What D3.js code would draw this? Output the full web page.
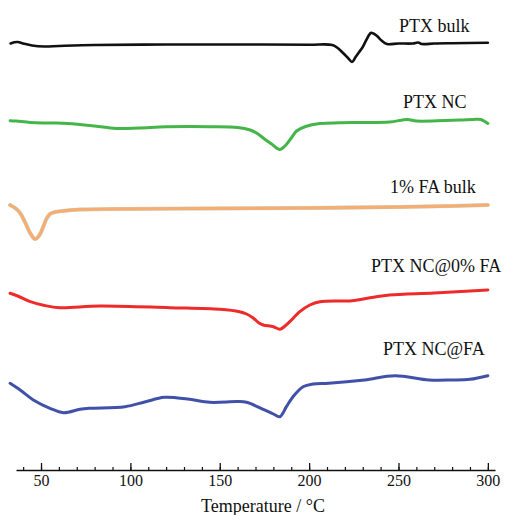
<!DOCTYPE html>
<html lang="en">
<head>
  <meta charset="UTF-8">
  <title>DSC curves</title>
  <style>
    html, body { margin: 0; background: #fff; }
    text { font-family: 'Liberation Serif', 'Times New Roman', serif; fill: #111; }
  </style>
  <script src="https://cdn.jsdelivr.net/npm/d3@7"></script>
</head>
<body>
  <script>
    const width = 505
    const height = 515

    // data (temperature in °C, heat flow in a.u. with offsets)
    const bulkT = [33, 35, 37, 40, 45, 52, 60, 80, 120, 160, 200, 213, 216, 219, 222, 224, 226, 228, 230, 232, 234.5, 236, 238, 240.5, 243.5, 250, 258, 261, 263, 270, 280, 300]
    const bulkV = [42.65, 42.77, 42.8, 42.65, 42.45, 42.35, 42.4, 42.5, 42.55, 42.55, 42.53, 42.5, 42.2, 41.7, 41.15, 40.8, 41.3, 41.8, 42.3, 43.0, 43.7, 43.65, 43.4, 42.95, 42.6, 42.65, 42.65, 42.75, 42.6, 42.65, 42.68, 42.73]

    const ncT = [32.7, 36, 44, 55, 65, 80, 92, 105, 120, 145, 160, 167, 171, 175, 179, 183.6, 187, 190, 193, 198, 206, 217, 228, 245, 255, 260, 276, 285, 292, 296, 300]
    const ncV = [34.93, 34.9, 34.75, 34.7, 34.65, 34.4, 34.15, 34.2, 34.32, 34.33, 34.25, 34.0, 33.65, 33.1, 32.6, 32.05, 32.5, 33.2, 33.9, 34.35, 34.65, 34.72, 34.75, 34.8, 35.05, 34.9, 34.95, 35.0, 35.05, 35.05, 34.65]

    const faT = [32.7, 35.5, 38.3, 41, 43.9, 46.6, 49, 51.3, 53, 55, 58, 62, 72, 92, 140, 195, 250, 280, 300]
    const faV = [26.5, 26.2, 25.7, 24.8, 23.7, 23.1, 23.45, 24.35, 25.1, 25.6, 25.8, 25.9, 26.05, 26.1, 26.15, 26.2, 26.3, 26.4, 26.5]

    const nc0T = [32.7, 37, 44, 52, 60.6, 83, 122, 150, 161, 165, 168.7, 172, 174.3, 180, 183.6, 186.5, 189.2, 194.8, 200.4, 206, 224, 235, 245, 270, 300]
    const nc0V = [17.67, 17.4, 16.83, 16.45, 16.23, 16.4, 16.23, 16.07, 15.83, 15.6, 15.2, 14.7, 14.5, 14.33, 14.07, 14.4, 14.83, 15.83, 16.5, 16.83, 16.93, 17.25, 17.5, 17.7, 18.0]

    const ncFaT = [32.7, 38.3, 45.7, 55, 62.5, 71.8, 77, 97, 108, 119, 132, 144.5, 160, 165, 174.3, 180, 183.6, 187.3, 191, 196.6, 202.2, 211, 231, 248, 267, 280, 290, 300]
    const ncFaV = [8.67, 8.0, 7.0, 6.17, 5.73, 6.07, 6.17, 6.33, 6.8, 7.27, 7.1, 6.77, 6.85, 6.77, 6.07, 5.6, 5.33, 6.33, 7.33, 8.33, 8.6, 8.67, 9.0, 9.43, 9.0, 9.0, 9.07, 9.43]

    const names = ['PTX bulk', 'PTX NC', '1% FA bulk', 'PTX NC@0% FA', 'PTX NC@FA']
    const colors = ['#111111', '#43b549', '#f4ae74', '#ee2b2b', '#4150a8']
    const xTicks = [50, 100, 150, 200, 250, 300]

    const series = [
      { t: bulkT, v: bulkV, w: 2.6 },
      { t: ncT, v: ncV, w: 3 },
      { t: faT, v: faV, w: 3.4 },
      { t: nc0T, v: nc0V, w: 3 },
      { t: ncFaT, v: ncFaV, w: 3 }
    ]

    // label positions (left x, baseline y)
    const labelPos = [[399, 32], [403, 108], [390, 193], [371, 272], [383, 355]]

    const svg = d3.select('body').append('svg')
      .attr('width', width)
      .attr('height', height)

    const axisY = 470

    const x = d3.scaleLinear()
      .domain([36, 304])
      .range([16, 495])

    const y = d3.scaleLinear()
      .domain([0, 47])
      .range([axisY, 0])

    const line = d3.line()
      .x(d => x(d[0]))
      .y(d => y(d[1]))
      .curve(d3.curveCatmullRom.alpha(0.5))

    series.forEach((s, i) => {
      const pts = d3.zip(s.t, s.v)
      if (i === 2) {
        // faint bluish edge under the orange trace
        svg.append('path')
          .attr('d', line(pts))
          .attr('fill', 'none')
          .attr('stroke', '#cfe6e8')
          .attr('stroke-width', s.w + 0.8)
          .attr('stroke-linejoin', 'round')
          .attr('stroke-linecap', 'round')
      }
      svg.append('path')
        .attr('d', line(pts))
        .attr('fill', 'none')
        .attr('stroke', colors[i])
        .attr('stroke-width', s.w)
        .attr('stroke-linejoin', 'round')
        .attr('stroke-linecap', 'round')
    })

    svg.selectAll('.label')
      .data(names)
      .enter()
      .append('text')
      .attr('class', 'label')
      .attr('x', (d, i) => labelPos[i][0])
      .attr('y', (d, i) => labelPos[i][1])
      .attr('font-size', 18)
      .text(d => d)

    // minor ticks
    const gMinor = svg.append('g')
      .attr('transform', `translate(0, ${axisY})`)
      .call(d3.axisBottom(x).tickValues(d3.range(40, 301, 10)).tickSize(-3).tickFormat(''))
    gMinor.select('.domain').remove()
    gMinor.selectAll('line').attr('stroke', '#111').attr('stroke-width', 1.2)

    // major ticks + axis line
    const gx = svg.append('g')
      .attr('transform', `translate(0, ${axisY})`)
      .call(d3.axisBottom(x).tickValues(xTicks).tickSizeInner(-7).tickSizeOuter(0).tickPadding(5))
    gx.select('.domain').attr('stroke', '#111').attr('stroke-width', 1.5)
    gx.selectAll('line').attr('stroke', '#111').attr('stroke-width', 1.3)
    gx.selectAll('text')
      .attr('font-size', 16)
      .attr('font-family', "'Liberation Serif', 'Times New Roman', serif")
      .attr('fill', '#111')

    svg.append('text')
      .attr('x', 263)
      .attr('y', 512)
      .attr('text-anchor', 'middle')
      .attr('font-size', 18)
      .text('Temperature / °C')
  </script>
</body>
</html>
